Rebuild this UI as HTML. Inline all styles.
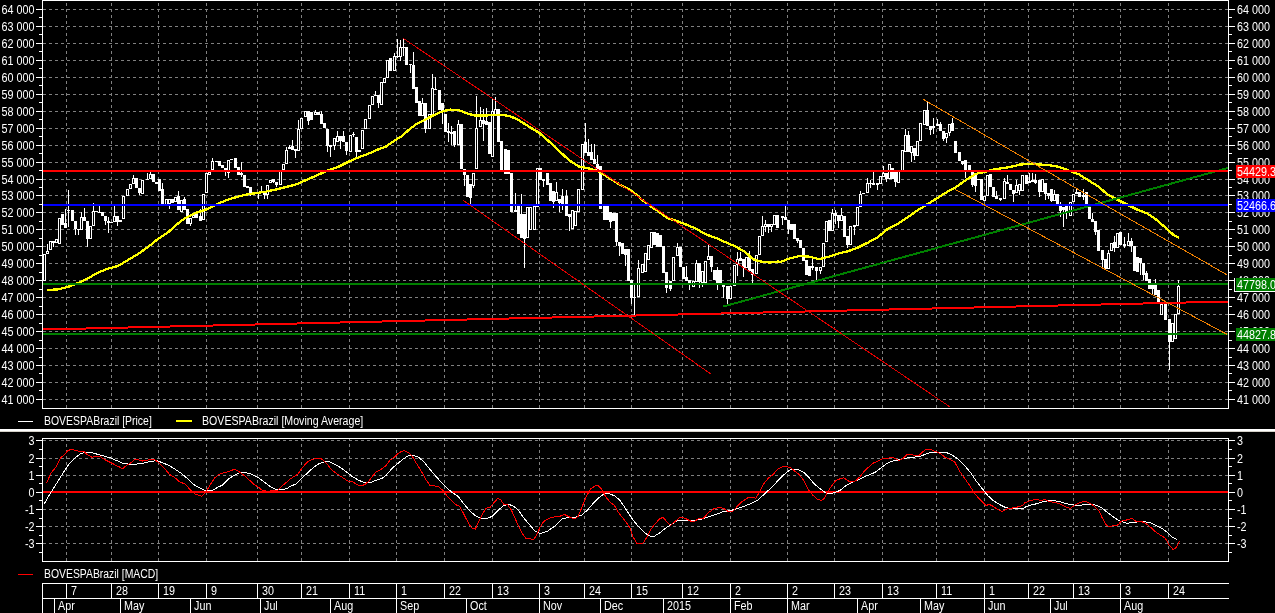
<!DOCTYPE html>
<html><head><meta charset="utf-8"><title>BOVESPA Brazil chart</title>
<style>html,body{margin:0;padding:0;background:#000;overflow:hidden}svg{display:block;will-change:transform}text{font-family:"Liberation Sans",sans-serif;font-size:12.5px;fill:#fff}</style></head><body>
<svg width="1275" height="613" viewBox="0 0 1275 613">
<rect x="0" y="0" width="1275" height="613" fill="#000"/>
<g shape-rendering="crispEdges">
<g stroke="#808080" stroke-width="1" stroke-dasharray="3 3" fill="none">
<line x1="43" y1="399.5" x2="1228" y2="399.5"/>
<line x1="43" y1="382.5" x2="1228" y2="382.5"/>
<line x1="43" y1="365.5" x2="1228" y2="365.5"/>
<line x1="43" y1="348.5" x2="1228" y2="348.5"/>
<line x1="43" y1="331.5" x2="1228" y2="331.5"/>
<line x1="43" y1="314.5" x2="1228" y2="314.5"/>
<line x1="43" y1="297.5" x2="1228" y2="297.5"/>
<line x1="43" y1="280.5" x2="1228" y2="280.5"/>
<line x1="43" y1="263.5" x2="1228" y2="263.5"/>
<line x1="43" y1="246.5" x2="1228" y2="246.5"/>
<line x1="43" y1="229.5" x2="1228" y2="229.5"/>
<line x1="43" y1="212.5" x2="1228" y2="212.5"/>
<line x1="43" y1="195.5" x2="1228" y2="195.5"/>
<line x1="43" y1="179.5" x2="1228" y2="179.5"/>
<line x1="43" y1="162.5" x2="1228" y2="162.5"/>
<line x1="43" y1="145.5" x2="1228" y2="145.5"/>
<line x1="43" y1="128.5" x2="1228" y2="128.5"/>
<line x1="43" y1="111.5" x2="1228" y2="111.5"/>
<line x1="43" y1="94.5" x2="1228" y2="94.5"/>
<line x1="43" y1="77.5" x2="1228" y2="77.5"/>
<line x1="43" y1="60.5" x2="1228" y2="60.5"/>
<line x1="43" y1="43.5" x2="1228" y2="43.5"/>
<line x1="43" y1="26.5" x2="1228" y2="26.5"/>
<line x1="43" y1="9.5" x2="1228" y2="9.5"/>
<line x1="66.5" y1="1" x2="66.5" y2="408" stroke-dashoffset="4"/>
<line x1="111.5" y1="1" x2="111.5" y2="408" stroke-dashoffset="4"/>
<line x1="158.5" y1="1" x2="158.5" y2="408" stroke-dashoffset="4"/>
<line x1="206.5" y1="1" x2="206.5" y2="408" stroke-dashoffset="4"/>
<line x1="257.5" y1="1" x2="257.5" y2="408" stroke-dashoffset="4"/>
<line x1="301.5" y1="1" x2="301.5" y2="408" stroke-dashoffset="4"/>
<line x1="349.5" y1="1" x2="349.5" y2="408" stroke-dashoffset="4"/>
<line x1="396.5" y1="1" x2="396.5" y2="408" stroke-dashoffset="4"/>
<line x1="444.5" y1="1" x2="444.5" y2="408" stroke-dashoffset="4"/>
<line x1="492.5" y1="1" x2="492.5" y2="408" stroke-dashoffset="4"/>
<line x1="539.5" y1="1" x2="539.5" y2="408" stroke-dashoffset="4"/>
<line x1="584.5" y1="1" x2="584.5" y2="408" stroke-dashoffset="4"/>
<line x1="631.5" y1="1" x2="631.5" y2="408" stroke-dashoffset="4"/>
<line x1="682.5" y1="1" x2="682.5" y2="408" stroke-dashoffset="4"/>
<line x1="730.5" y1="1" x2="730.5" y2="408" stroke-dashoffset="4"/>
<line x1="787.5" y1="1" x2="787.5" y2="408" stroke-dashoffset="4"/>
<line x1="834.5" y1="1" x2="834.5" y2="408" stroke-dashoffset="4"/>
<line x1="882.5" y1="1" x2="882.5" y2="408" stroke-dashoffset="4"/>
<line x1="936.5" y1="1" x2="936.5" y2="408" stroke-dashoffset="4"/>
<line x1="984.5" y1="1" x2="984.5" y2="408" stroke-dashoffset="4"/>
<line x1="1028.5" y1="1" x2="1028.5" y2="408" stroke-dashoffset="4"/>
<line x1="1073.5" y1="1" x2="1073.5" y2="408" stroke-dashoffset="4"/>
<line x1="1120.5" y1="1" x2="1120.5" y2="408" stroke-dashoffset="4"/>
<line x1="1168.5" y1="1" x2="1168.5" y2="408" stroke-dashoffset="4"/>
</g>
<g id="candles">
<rect x="43" y="254" width="3" height="27" fill="#fff"/>
<rect x="44" y="255" width="1" height="25" fill="#000"/>
<rect x="47" y="244" width="1" height="7" fill="#fff"/>
<rect x="46" y="251" width="3" height="3" fill="#fff"/>
<rect x="47" y="252" width="1" height="1" fill="#000"/>
<rect x="49" y="241" width="3" height="9" fill="#fff"/>
<rect x="50" y="242" width="1" height="7" fill="#000"/>
<rect x="53" y="243" width="1" height="4" fill="#fff"/>
<rect x="52" y="241" width="3" height="2" fill="#fff"/>
<rect x="55" y="239" width="3" height="4" fill="#fff"/>
<rect x="56" y="240" width="1" height="2" fill="#000"/>
<rect x="58" y="218" width="3" height="26" fill="#fff"/>
<rect x="59" y="219" width="1" height="24" fill="#000"/>
<rect x="61" y="214" width="3" height="11" fill="#fff"/>
<rect x="65" y="209" width="1" height="14" fill="#fff"/>
<rect x="64" y="223" width="3" height="5" fill="#fff"/>
<rect x="68" y="190" width="1" height="20" fill="#fff"/>
<rect x="68" y="211" width="1" height="16" fill="#fff"/>
<rect x="67" y="210" width="3" height="1" fill="#fff"/>
<rect x="71" y="210" width="3" height="11" fill="#fff"/>
<rect x="75" y="229" width="1" height="6" fill="#fff"/>
<rect x="74" y="221" width="3" height="8" fill="#fff"/>
<rect x="78" y="230" width="1" height="5" fill="#fff"/>
<rect x="77" y="229" width="3" height="1" fill="#fff"/>
<rect x="81" y="212" width="1" height="5" fill="#fff"/>
<rect x="80" y="217" width="3" height="13" fill="#fff"/>
<rect x="81" y="218" width="1" height="11" fill="#000"/>
<rect x="84" y="208" width="1" height="9" fill="#fff"/>
<rect x="83" y="217" width="3" height="4" fill="#fff"/>
<rect x="87" y="239" width="1" height="8" fill="#fff"/>
<rect x="86" y="221" width="3" height="18" fill="#fff"/>
<rect x="89" y="226" width="3" height="13" fill="#fff"/>
<rect x="90" y="227" width="1" height="11" fill="#000"/>
<rect x="93" y="203" width="1" height="8" fill="#fff"/>
<rect x="92" y="211" width="3" height="15" fill="#fff"/>
<rect x="93" y="212" width="1" height="13" fill="#000"/>
<rect x="95" y="211" width="3" height="1" fill="#fff"/>
<rect x="99" y="206" width="1" height="6" fill="#fff"/>
<rect x="98" y="212" width="3" height="1" fill="#fff"/>
<rect x="101" y="212" width="3" height="4" fill="#fff"/>
<rect x="105" y="221" width="1" height="4" fill="#fff"/>
<rect x="104" y="216" width="3" height="5" fill="#fff"/>
<rect x="108" y="217" width="1" height="4" fill="#fff"/>
<rect x="108" y="223" width="1" height="10" fill="#fff"/>
<rect x="107" y="221" width="3" height="2" fill="#fff"/>
<rect x="110" y="222" width="3" height="1" fill="#fff"/>
<rect x="114" y="206" width="1" height="10" fill="#fff"/>
<rect x="113" y="216" width="3" height="6" fill="#fff"/>
<rect x="114" y="217" width="1" height="4" fill="#000"/>
<rect x="117" y="222" width="1" height="4" fill="#fff"/>
<rect x="116" y="216" width="3" height="6" fill="#fff"/>
<rect x="119" y="220" width="3" height="2" fill="#fff"/>
<rect x="122" y="196" width="3" height="23" fill="#fff"/>
<rect x="123" y="197" width="1" height="21" fill="#000"/>
<rect x="126" y="189" width="3" height="7" fill="#fff"/>
<rect x="127" y="190" width="1" height="5" fill="#000"/>
<rect x="129" y="184" width="3" height="5" fill="#fff"/>
<rect x="130" y="185" width="1" height="3" fill="#000"/>
<rect x="133" y="175" width="1" height="3" fill="#fff"/>
<rect x="132" y="178" width="3" height="6" fill="#fff"/>
<rect x="133" y="179" width="1" height="4" fill="#000"/>
<rect x="135" y="178" width="3" height="10" fill="#fff"/>
<rect x="139" y="193" width="1" height="2" fill="#fff"/>
<rect x="138" y="188" width="3" height="5" fill="#fff"/>
<rect x="141" y="180" width="3" height="14" fill="#fff"/>
<rect x="142" y="181" width="1" height="12" fill="#000"/>
<rect x="147" y="173" width="1" height="6" fill="#fff"/>
<rect x="146" y="179" width="3" height="1" fill="#fff"/>
<rect x="150" y="172" width="1" height="2" fill="#fff"/>
<rect x="149" y="174" width="3" height="5" fill="#fff"/>
<rect x="150" y="175" width="1" height="3" fill="#000"/>
<rect x="152" y="174" width="3" height="8" fill="#fff"/>
<rect x="155" y="182" width="3" height="2" fill="#fff"/>
<rect x="158" y="179" width="3" height="12" fill="#fff"/>
<rect x="162" y="183" width="1" height="6" fill="#fff"/>
<rect x="161" y="189" width="3" height="17" fill="#fff"/>
<rect x="165" y="199" width="3" height="7" fill="#fff"/>
<rect x="166" y="200" width="1" height="5" fill="#000"/>
<rect x="169" y="204" width="1" height="5" fill="#fff"/>
<rect x="168" y="199" width="3" height="5" fill="#fff"/>
<rect x="169" y="200" width="1" height="3" fill="#000"/>
<rect x="171" y="199" width="3" height="4" fill="#fff"/>
<rect x="174" y="197" width="3" height="5" fill="#fff"/>
<rect x="175" y="198" width="1" height="3" fill="#000"/>
<rect x="178" y="191" width="1" height="5" fill="#fff"/>
<rect x="177" y="196" width="3" height="14" fill="#fff"/>
<rect x="180" y="200" width="3" height="12" fill="#fff"/>
<rect x="181" y="201" width="1" height="10" fill="#000"/>
<rect x="184" y="197" width="1" height="2" fill="#fff"/>
<rect x="183" y="199" width="3" height="11" fill="#fff"/>
<rect x="186" y="209" width="3" height="15" fill="#fff"/>
<rect x="190" y="224" width="1" height="2" fill="#fff"/>
<rect x="189" y="218" width="3" height="6" fill="#fff"/>
<rect x="190" y="219" width="1" height="4" fill="#000"/>
<rect x="192" y="215" width="3" height="3" fill="#fff"/>
<rect x="193" y="216" width="1" height="1" fill="#000"/>
<rect x="195" y="214" width="3" height="4" fill="#fff"/>
<rect x="200" y="209" width="1" height="7" fill="#fff"/>
<rect x="199" y="216" width="3" height="5" fill="#fff"/>
<rect x="202" y="194" width="3" height="26" fill="#fff"/>
<rect x="203" y="195" width="1" height="24" fill="#000"/>
<rect x="205" y="173" width="3" height="20" fill="#fff"/>
<rect x="206" y="174" width="1" height="18" fill="#000"/>
<rect x="209" y="171" width="1" height="1" fill="#fff"/>
<rect x="208" y="172" width="3" height="3" fill="#fff"/>
<rect x="209" y="173" width="1" height="1" fill="#000"/>
<rect x="212" y="158" width="1" height="3" fill="#fff"/>
<rect x="211" y="161" width="3" height="9" fill="#fff"/>
<rect x="212" y="162" width="1" height="7" fill="#000"/>
<rect x="215" y="161" width="3" height="1" fill="#fff"/>
<rect x="218" y="161" width="3" height="5" fill="#fff"/>
<rect x="221" y="165" width="3" height="3" fill="#fff"/>
<rect x="225" y="172" width="1" height="4" fill="#fff"/>
<rect x="224" y="168" width="3" height="4" fill="#fff"/>
<rect x="228" y="173" width="1" height="5" fill="#fff"/>
<rect x="227" y="160" width="3" height="13" fill="#fff"/>
<rect x="228" y="161" width="1" height="11" fill="#000"/>
<rect x="230" y="159" width="3" height="1" fill="#fff"/>
<rect x="234" y="158" width="3" height="10" fill="#fff"/>
<rect x="237" y="167" width="3" height="8" fill="#fff"/>
<rect x="241" y="162" width="1" height="11" fill="#fff"/>
<rect x="241" y="175" width="1" height="2" fill="#fff"/>
<rect x="240" y="173" width="3" height="2" fill="#fff"/>
<rect x="243" y="175" width="3" height="12" fill="#fff"/>
<rect x="246" y="186" width="3" height="2" fill="#fff"/>
<rect x="250" y="193" width="1" height="3" fill="#fff"/>
<rect x="249" y="187" width="3" height="6" fill="#fff"/>
<rect x="253" y="192" width="3" height="1" fill="#fff"/>
<rect x="258" y="193" width="1" height="6" fill="#fff"/>
<rect x="257" y="192" width="3" height="1" fill="#fff"/>
<rect x="261" y="186" width="1" height="5" fill="#fff"/>
<rect x="260" y="191" width="3" height="2" fill="#fff"/>
<rect x="264" y="195" width="1" height="4" fill="#fff"/>
<rect x="263" y="191" width="3" height="4" fill="#fff"/>
<rect x="267" y="195" width="1" height="4" fill="#fff"/>
<rect x="266" y="185" width="3" height="10" fill="#fff"/>
<rect x="267" y="186" width="1" height="8" fill="#000"/>
<rect x="269" y="180" width="3" height="3" fill="#fff"/>
<rect x="270" y="181" width="1" height="1" fill="#000"/>
<rect x="273" y="182" width="1" height="1" fill="#fff"/>
<rect x="272" y="179" width="3" height="3" fill="#fff"/>
<rect x="276" y="185" width="1" height="2" fill="#fff"/>
<rect x="275" y="182" width="3" height="3" fill="#fff"/>
<rect x="279" y="171" width="3" height="14" fill="#fff"/>
<rect x="280" y="172" width="1" height="12" fill="#000"/>
<rect x="282" y="164" width="3" height="6" fill="#fff"/>
<rect x="283" y="165" width="1" height="4" fill="#000"/>
<rect x="286" y="147" width="1" height="3" fill="#fff"/>
<rect x="285" y="150" width="3" height="14" fill="#fff"/>
<rect x="286" y="151" width="1" height="12" fill="#000"/>
<rect x="289" y="145" width="1" height="2" fill="#fff"/>
<rect x="288" y="147" width="3" height="2" fill="#fff"/>
<rect x="292" y="140" width="1" height="6" fill="#fff"/>
<rect x="291" y="146" width="3" height="4" fill="#fff"/>
<rect x="295" y="151" width="1" height="7" fill="#fff"/>
<rect x="294" y="149" width="3" height="2" fill="#fff"/>
<rect x="298" y="120" width="1" height="9" fill="#fff"/>
<rect x="297" y="129" width="3" height="22" fill="#fff"/>
<rect x="298" y="130" width="1" height="20" fill="#000"/>
<rect x="300" y="118" width="3" height="11" fill="#fff"/>
<rect x="301" y="119" width="1" height="9" fill="#000"/>
<rect x="304" y="111" width="3" height="6" fill="#fff"/>
<rect x="305" y="112" width="1" height="4" fill="#000"/>
<rect x="308" y="121" width="1" height="4" fill="#fff"/>
<rect x="307" y="111" width="3" height="10" fill="#fff"/>
<rect x="310" y="112" width="3" height="8" fill="#fff"/>
<rect x="315" y="110" width="1" height="2" fill="#fff"/>
<rect x="314" y="112" width="3" height="3" fill="#fff"/>
<rect x="315" y="113" width="1" height="1" fill="#000"/>
<rect x="317" y="112" width="3" height="3" fill="#fff"/>
<rect x="321" y="111" width="1" height="3" fill="#fff"/>
<rect x="320" y="114" width="3" height="10" fill="#fff"/>
<rect x="323" y="123" width="3" height="5" fill="#fff"/>
<rect x="327" y="146" width="1" height="6" fill="#fff"/>
<rect x="326" y="129" width="3" height="17" fill="#fff"/>
<rect x="330" y="147" width="1" height="10" fill="#fff"/>
<rect x="329" y="145" width="3" height="2" fill="#fff"/>
<rect x="334" y="146" width="1" height="4" fill="#fff"/>
<rect x="333" y="138" width="3" height="8" fill="#fff"/>
<rect x="334" y="139" width="1" height="6" fill="#000"/>
<rect x="337" y="131" width="1" height="5" fill="#fff"/>
<rect x="336" y="136" width="3" height="6" fill="#fff"/>
<rect x="337" y="137" width="1" height="4" fill="#000"/>
<rect x="340" y="141" width="1" height="8" fill="#fff"/>
<rect x="339" y="136" width="3" height="5" fill="#fff"/>
<rect x="343" y="131" width="1" height="5" fill="#fff"/>
<rect x="342" y="136" width="3" height="6" fill="#fff"/>
<rect x="346" y="151" width="1" height="4" fill="#fff"/>
<rect x="345" y="142" width="3" height="9" fill="#fff"/>
<rect x="349" y="135" width="3" height="17" fill="#fff"/>
<rect x="350" y="136" width="1" height="15" fill="#000"/>
<rect x="353" y="132" width="1" height="2" fill="#fff"/>
<rect x="353" y="135" width="1" height="2" fill="#fff"/>
<rect x="352" y="134" width="3" height="1" fill="#fff"/>
<rect x="356" y="152" width="1" height="5" fill="#fff"/>
<rect x="355" y="137" width="3" height="15" fill="#fff"/>
<rect x="358" y="150" width="3" height="2" fill="#fff"/>
<rect x="361" y="130" width="3" height="19" fill="#fff"/>
<rect x="362" y="131" width="1" height="17" fill="#000"/>
<rect x="364" y="119" width="3" height="10" fill="#fff"/>
<rect x="365" y="120" width="1" height="8" fill="#000"/>
<rect x="368" y="105" width="3" height="14" fill="#fff"/>
<rect x="369" y="106" width="1" height="12" fill="#000"/>
<rect x="371" y="96" width="3" height="9" fill="#fff"/>
<rect x="372" y="97" width="1" height="7" fill="#000"/>
<rect x="375" y="91" width="1" height="4" fill="#fff"/>
<rect x="374" y="95" width="3" height="1" fill="#fff"/>
<rect x="378" y="103" width="1" height="5" fill="#fff"/>
<rect x="377" y="95" width="3" height="8" fill="#fff"/>
<rect x="380" y="82" width="3" height="23" fill="#fff"/>
<rect x="381" y="83" width="1" height="21" fill="#000"/>
<rect x="383" y="78" width="3" height="5" fill="#fff"/>
<rect x="384" y="79" width="1" height="3" fill="#000"/>
<rect x="386" y="60" width="3" height="18" fill="#fff"/>
<rect x="387" y="61" width="1" height="16" fill="#000"/>
<rect x="389" y="58" width="3" height="13" fill="#fff"/>
<rect x="394" y="53" width="1" height="3" fill="#fff"/>
<rect x="393" y="56" width="3" height="15" fill="#fff"/>
<rect x="394" y="57" width="1" height="13" fill="#000"/>
<rect x="397" y="39" width="1" height="17" fill="#fff"/>
<rect x="397" y="57" width="1" height="1" fill="#fff"/>
<rect x="396" y="56" width="3" height="1" fill="#fff"/>
<rect x="400" y="40" width="1" height="7" fill="#fff"/>
<rect x="400" y="57" width="1" height="4" fill="#fff"/>
<rect x="399" y="47" width="3" height="10" fill="#fff"/>
<rect x="400" y="48" width="1" height="8" fill="#000"/>
<rect x="403" y="39" width="1" height="8" fill="#fff"/>
<rect x="403" y="48" width="1" height="8" fill="#fff"/>
<rect x="402" y="47" width="3" height="1" fill="#fff"/>
<rect x="405" y="47" width="3" height="18" fill="#fff"/>
<rect x="410" y="65" width="1" height="8" fill="#fff"/>
<rect x="409" y="64" width="3" height="1" fill="#fff"/>
<rect x="413" y="52" width="1" height="13" fill="#fff"/>
<rect x="412" y="65" width="3" height="24" fill="#fff"/>
<rect x="415" y="87" width="3" height="16" fill="#fff"/>
<rect x="418" y="101" width="3" height="15" fill="#fff"/>
<rect x="422" y="98" width="1" height="5" fill="#fff"/>
<rect x="421" y="103" width="3" height="13" fill="#fff"/>
<rect x="422" y="104" width="1" height="11" fill="#000"/>
<rect x="425" y="129" width="1" height="4" fill="#fff"/>
<rect x="424" y="103" width="3" height="26" fill="#fff"/>
<rect x="428" y="114" width="3" height="15" fill="#fff"/>
<rect x="429" y="115" width="1" height="13" fill="#000"/>
<rect x="432" y="74" width="1" height="14" fill="#fff"/>
<rect x="431" y="88" width="3" height="28" fill="#fff"/>
<rect x="432" y="89" width="1" height="26" fill="#000"/>
<rect x="435" y="77" width="1" height="12" fill="#fff"/>
<rect x="434" y="89" width="3" height="1" fill="#fff"/>
<rect x="438" y="90" width="3" height="20" fill="#fff"/>
<rect x="442" y="111" width="1" height="13" fill="#fff"/>
<rect x="441" y="103" width="3" height="8" fill="#fff"/>
<rect x="444" y="114" width="3" height="18" fill="#fff"/>
<rect x="448" y="123" width="1" height="8" fill="#fff"/>
<rect x="448" y="133" width="1" height="9" fill="#fff"/>
<rect x="447" y="131" width="3" height="2" fill="#fff"/>
<rect x="451" y="126" width="1" height="6" fill="#fff"/>
<rect x="451" y="134" width="1" height="11" fill="#fff"/>
<rect x="450" y="132" width="3" height="2" fill="#fff"/>
<rect x="454" y="145" width="1" height="2" fill="#fff"/>
<rect x="453" y="131" width="3" height="14" fill="#fff"/>
<rect x="458" y="120" width="1" height="4" fill="#fff"/>
<rect x="457" y="124" width="3" height="21" fill="#fff"/>
<rect x="458" y="125" width="1" height="19" fill="#000"/>
<rect x="460" y="124" width="3" height="45" fill="#fff"/>
<rect x="464" y="175" width="1" height="11" fill="#fff"/>
<rect x="463" y="169" width="3" height="6" fill="#fff"/>
<rect x="466" y="175" width="3" height="22" fill="#fff"/>
<rect x="470" y="198" width="1" height="6" fill="#fff"/>
<rect x="469" y="184" width="3" height="14" fill="#fff"/>
<rect x="473" y="186" width="1" height="2" fill="#fff"/>
<rect x="472" y="173" width="3" height="13" fill="#fff"/>
<rect x="473" y="174" width="1" height="11" fill="#000"/>
<rect x="476" y="96" width="1" height="32" fill="#fff"/>
<rect x="475" y="128" width="3" height="41" fill="#fff"/>
<rect x="476" y="129" width="1" height="39" fill="#000"/>
<rect x="480" y="107" width="1" height="13" fill="#fff"/>
<rect x="479" y="120" width="3" height="7" fill="#fff"/>
<rect x="480" y="121" width="1" height="5" fill="#000"/>
<rect x="483" y="109" width="1" height="11" fill="#fff"/>
<rect x="483" y="124" width="1" height="17" fill="#fff"/>
<rect x="482" y="120" width="3" height="4" fill="#fff"/>
<rect x="486" y="108" width="1" height="13" fill="#fff"/>
<rect x="485" y="121" width="3" height="4" fill="#fff"/>
<rect x="488" y="122" width="3" height="32" fill="#fff"/>
<rect x="492" y="98" width="1" height="13" fill="#fff"/>
<rect x="491" y="111" width="3" height="46" fill="#fff"/>
<rect x="492" y="112" width="1" height="44" fill="#000"/>
<rect x="495" y="97" width="1" height="12" fill="#fff"/>
<rect x="494" y="109" width="3" height="6" fill="#fff"/>
<rect x="495" y="110" width="1" height="4" fill="#000"/>
<rect x="497" y="109" width="3" height="33" fill="#fff"/>
<rect x="500" y="141" width="3" height="31" fill="#fff"/>
<rect x="504" y="149" width="3" height="25" fill="#fff"/>
<rect x="507" y="150" width="3" height="24" fill="#fff"/>
<rect x="510" y="173" width="3" height="39" fill="#fff"/>
<rect x="515" y="193" width="1" height="17" fill="#fff"/>
<rect x="514" y="210" width="3" height="2" fill="#fff"/>
<rect x="517" y="206" width="3" height="28" fill="#fff"/>
<rect x="521" y="194" width="1" height="20" fill="#fff"/>
<rect x="520" y="214" width="3" height="24" fill="#fff"/>
<rect x="524" y="239" width="1" height="29" fill="#fff"/>
<rect x="523" y="214" width="3" height="25" fill="#fff"/>
<rect x="526" y="207" width="3" height="31" fill="#fff"/>
<rect x="527" y="208" width="1" height="29" fill="#000"/>
<rect x="529" y="207" width="3" height="23" fill="#fff"/>
<rect x="530" y="208" width="1" height="21" fill="#000"/>
<rect x="533" y="206" width="3" height="24" fill="#fff"/>
<rect x="534" y="207" width="1" height="22" fill="#000"/>
<rect x="536" y="168" width="3" height="39" fill="#fff"/>
<rect x="537" y="169" width="1" height="37" fill="#000"/>
<rect x="539" y="168" width="3" height="12" fill="#fff"/>
<rect x="543" y="181" width="1" height="6" fill="#fff"/>
<rect x="542" y="179" width="3" height="2" fill="#fff"/>
<rect x="546" y="173" width="3" height="12" fill="#fff"/>
<rect x="549" y="183" width="3" height="18" fill="#fff"/>
<rect x="553" y="202" width="1" height="6" fill="#fff"/>
<rect x="552" y="191" width="3" height="11" fill="#fff"/>
<rect x="556" y="182" width="1" height="10" fill="#fff"/>
<rect x="555" y="192" width="3" height="9" fill="#fff"/>
<rect x="556" y="193" width="1" height="7" fill="#000"/>
<rect x="559" y="203" width="1" height="9" fill="#fff"/>
<rect x="558" y="199" width="3" height="4" fill="#fff"/>
<rect x="562" y="189" width="1" height="7" fill="#fff"/>
<rect x="562" y="206" width="1" height="4" fill="#fff"/>
<rect x="561" y="196" width="3" height="10" fill="#fff"/>
<rect x="566" y="190" width="1" height="6" fill="#fff"/>
<rect x="565" y="196" width="3" height="20" fill="#fff"/>
<rect x="569" y="217" width="1" height="14" fill="#fff"/>
<rect x="568" y="214" width="3" height="3" fill="#fff"/>
<rect x="571" y="210" width="3" height="19" fill="#fff"/>
<rect x="572" y="211" width="1" height="17" fill="#000"/>
<rect x="574" y="211" width="3" height="15" fill="#fff"/>
<rect x="575" y="212" width="1" height="13" fill="#000"/>
<rect x="577" y="189" width="3" height="23" fill="#fff"/>
<rect x="578" y="190" width="1" height="21" fill="#000"/>
<rect x="581" y="144" width="3" height="46" fill="#fff"/>
<rect x="582" y="145" width="1" height="44" fill="#000"/>
<rect x="585" y="123" width="1" height="19" fill="#fff"/>
<rect x="584" y="142" width="3" height="11" fill="#fff"/>
<rect x="588" y="139" width="1" height="13" fill="#fff"/>
<rect x="587" y="152" width="3" height="4" fill="#fff"/>
<rect x="591" y="144" width="1" height="8" fill="#fff"/>
<rect x="590" y="152" width="3" height="8" fill="#fff"/>
<rect x="594" y="144" width="1" height="15" fill="#fff"/>
<rect x="593" y="159" width="3" height="5" fill="#fff"/>
<rect x="597" y="155" width="1" height="9" fill="#fff"/>
<rect x="596" y="164" width="3" height="7" fill="#fff"/>
<rect x="599" y="166" width="3" height="43" fill="#fff"/>
<rect x="603" y="206" width="3" height="14" fill="#fff"/>
<rect x="606" y="206" width="3" height="14" fill="#fff"/>
<rect x="610" y="222" width="1" height="6" fill="#fff"/>
<rect x="609" y="212" width="3" height="10" fill="#fff"/>
<rect x="612" y="213" width="3" height="8" fill="#fff"/>
<rect x="616" y="242" width="1" height="4" fill="#fff"/>
<rect x="615" y="213" width="3" height="29" fill="#fff"/>
<rect x="619" y="246" width="1" height="10" fill="#fff"/>
<rect x="618" y="242" width="3" height="4" fill="#fff"/>
<rect x="621" y="243" width="3" height="11" fill="#fff"/>
<rect x="625" y="255" width="1" height="11" fill="#fff"/>
<rect x="624" y="249" width="3" height="6" fill="#fff"/>
<rect x="627" y="249" width="3" height="32" fill="#fff"/>
<rect x="631" y="298" width="1" height="6" fill="#fff"/>
<rect x="630" y="280" width="3" height="18" fill="#fff"/>
<rect x="634" y="285" width="1" height="12" fill="#fff"/>
<rect x="634" y="298" width="1" height="17" fill="#fff"/>
<rect x="633" y="297" width="3" height="1" fill="#fff"/>
<rect x="638" y="260" width="1" height="8" fill="#fff"/>
<rect x="637" y="268" width="3" height="29" fill="#fff"/>
<rect x="638" y="269" width="1" height="27" fill="#000"/>
<rect x="641" y="264" width="3" height="9" fill="#fff"/>
<rect x="642" y="265" width="1" height="7" fill="#000"/>
<rect x="644" y="253" width="3" height="19" fill="#fff"/>
<rect x="645" y="254" width="1" height="17" fill="#000"/>
<rect x="647" y="245" width="3" height="15" fill="#fff"/>
<rect x="648" y="246" width="1" height="13" fill="#000"/>
<rect x="650" y="232" width="3" height="16" fill="#fff"/>
<rect x="651" y="233" width="1" height="14" fill="#000"/>
<rect x="653" y="232" width="3" height="13" fill="#fff"/>
<rect x="656" y="233" width="3" height="14" fill="#fff"/>
<rect x="659" y="235" width="3" height="12" fill="#fff"/>
<rect x="662" y="246" width="3" height="27" fill="#fff"/>
<rect x="666" y="288" width="1" height="5" fill="#fff"/>
<rect x="665" y="272" width="3" height="16" fill="#fff"/>
<rect x="670" y="289" width="1" height="2" fill="#fff"/>
<rect x="669" y="281" width="3" height="8" fill="#fff"/>
<rect x="672" y="257" width="3" height="24" fill="#fff"/>
<rect x="673" y="258" width="1" height="22" fill="#000"/>
<rect x="677" y="243" width="1" height="4" fill="#fff"/>
<rect x="676" y="247" width="3" height="9" fill="#fff"/>
<rect x="677" y="248" width="1" height="7" fill="#000"/>
<rect x="679" y="247" width="3" height="20" fill="#fff"/>
<rect x="682" y="267" width="3" height="12" fill="#fff"/>
<rect x="686" y="266" width="1" height="11" fill="#fff"/>
<rect x="685" y="277" width="3" height="4" fill="#fff"/>
<rect x="689" y="285" width="1" height="5" fill="#fff"/>
<rect x="688" y="280" width="3" height="5" fill="#fff"/>
<rect x="692" y="281" width="3" height="6" fill="#fff"/>
<rect x="693" y="282" width="1" height="4" fill="#000"/>
<rect x="696" y="260" width="1" height="3" fill="#fff"/>
<rect x="695" y="263" width="3" height="19" fill="#fff"/>
<rect x="696" y="264" width="1" height="17" fill="#000"/>
<rect x="699" y="282" width="1" height="6" fill="#fff"/>
<rect x="698" y="263" width="3" height="19" fill="#fff"/>
<rect x="702" y="283" width="1" height="4" fill="#fff"/>
<rect x="701" y="271" width="3" height="12" fill="#fff"/>
<rect x="702" y="272" width="1" height="10" fill="#000"/>
<rect x="704" y="261" width="3" height="22" fill="#fff"/>
<rect x="705" y="262" width="1" height="20" fill="#000"/>
<rect x="708" y="245" width="1" height="11" fill="#fff"/>
<rect x="707" y="256" width="3" height="4" fill="#fff"/>
<rect x="708" y="257" width="1" height="2" fill="#000"/>
<rect x="711" y="267" width="1" height="5" fill="#fff"/>
<rect x="710" y="256" width="3" height="11" fill="#fff"/>
<rect x="713" y="270" width="3" height="10" fill="#fff"/>
<rect x="717" y="267" width="1" height="3" fill="#fff"/>
<rect x="717" y="284" width="1" height="6" fill="#fff"/>
<rect x="716" y="270" width="3" height="14" fill="#fff"/>
<rect x="719" y="270" width="3" height="14" fill="#fff"/>
<rect x="723" y="287" width="1" height="11" fill="#fff"/>
<rect x="722" y="285" width="3" height="2" fill="#fff"/>
<rect x="727" y="299" width="1" height="7" fill="#fff"/>
<rect x="726" y="286" width="3" height="13" fill="#fff"/>
<rect x="729" y="286" width="3" height="13" fill="#fff"/>
<rect x="730" y="287" width="1" height="11" fill="#000"/>
<rect x="733" y="265" width="3" height="21" fill="#fff"/>
<rect x="734" y="266" width="1" height="19" fill="#000"/>
<rect x="737" y="252" width="1" height="7" fill="#fff"/>
<rect x="737" y="265" width="1" height="11" fill="#fff"/>
<rect x="736" y="259" width="3" height="6" fill="#fff"/>
<rect x="737" y="260" width="1" height="4" fill="#000"/>
<rect x="740" y="252" width="1" height="6" fill="#fff"/>
<rect x="739" y="258" width="3" height="3" fill="#fff"/>
<rect x="743" y="268" width="1" height="9" fill="#fff"/>
<rect x="742" y="259" width="3" height="9" fill="#fff"/>
<rect x="745" y="257" width="3" height="11" fill="#fff"/>
<rect x="746" y="258" width="1" height="9" fill="#000"/>
<rect x="749" y="251" width="1" height="6" fill="#fff"/>
<rect x="748" y="257" width="3" height="14" fill="#fff"/>
<rect x="752" y="275" width="1" height="8" fill="#fff"/>
<rect x="751" y="269" width="3" height="6" fill="#fff"/>
<rect x="755" y="255" width="3" height="19" fill="#fff"/>
<rect x="756" y="256" width="1" height="17" fill="#000"/>
<rect x="758" y="236" width="3" height="19" fill="#fff"/>
<rect x="759" y="237" width="1" height="17" fill="#000"/>
<rect x="762" y="216" width="1" height="10" fill="#fff"/>
<rect x="761" y="226" width="3" height="10" fill="#fff"/>
<rect x="762" y="227" width="1" height="8" fill="#000"/>
<rect x="765" y="220" width="1" height="4" fill="#fff"/>
<rect x="765" y="227" width="1" height="5" fill="#fff"/>
<rect x="764" y="224" width="3" height="3" fill="#fff"/>
<rect x="765" y="225" width="1" height="1" fill="#000"/>
<rect x="768" y="227" width="1" height="6" fill="#fff"/>
<rect x="767" y="224" width="3" height="3" fill="#fff"/>
<rect x="771" y="227" width="1" height="5" fill="#fff"/>
<rect x="770" y="224" width="3" height="3" fill="#fff"/>
<rect x="771" y="225" width="1" height="1" fill="#000"/>
<rect x="773" y="215" width="3" height="10" fill="#fff"/>
<rect x="774" y="216" width="1" height="8" fill="#000"/>
<rect x="776" y="215" width="3" height="13" fill="#fff"/>
<rect x="782" y="218" width="1" height="7" fill="#fff"/>
<rect x="781" y="216" width="3" height="2" fill="#fff"/>
<rect x="785" y="206" width="1" height="11" fill="#fff"/>
<rect x="784" y="217" width="3" height="3" fill="#fff"/>
<rect x="788" y="229" width="1" height="5" fill="#fff"/>
<rect x="787" y="220" width="3" height="9" fill="#fff"/>
<rect x="790" y="224" width="3" height="6" fill="#fff"/>
<rect x="793" y="224" width="3" height="15" fill="#fff"/>
<rect x="797" y="241" width="1" height="2" fill="#fff"/>
<rect x="796" y="238" width="3" height="3" fill="#fff"/>
<rect x="799" y="240" width="3" height="8" fill="#fff"/>
<rect x="802" y="248" width="3" height="13" fill="#fff"/>
<rect x="805" y="260" width="3" height="15" fill="#fff"/>
<rect x="808" y="266" width="3" height="10" fill="#fff"/>
<rect x="812" y="257" width="1" height="9" fill="#fff"/>
<rect x="812" y="268" width="1" height="2" fill="#fff"/>
<rect x="811" y="266" width="3" height="2" fill="#fff"/>
<rect x="816" y="271" width="1" height="11" fill="#fff"/>
<rect x="815" y="267" width="3" height="4" fill="#fff"/>
<rect x="820" y="271" width="1" height="3" fill="#fff"/>
<rect x="819" y="267" width="3" height="4" fill="#fff"/>
<rect x="820" y="268" width="1" height="2" fill="#000"/>
<rect x="822" y="243" width="3" height="24" fill="#fff"/>
<rect x="823" y="244" width="1" height="22" fill="#000"/>
<rect x="825" y="221" width="3" height="21" fill="#fff"/>
<rect x="826" y="222" width="1" height="19" fill="#000"/>
<rect x="828" y="220" width="3" height="11" fill="#fff"/>
<rect x="832" y="209" width="1" height="4" fill="#fff"/>
<rect x="831" y="213" width="3" height="18" fill="#fff"/>
<rect x="832" y="214" width="1" height="16" fill="#000"/>
<rect x="835" y="210" width="1" height="3" fill="#fff"/>
<rect x="835" y="216" width="1" height="8" fill="#fff"/>
<rect x="834" y="213" width="3" height="3" fill="#fff"/>
<rect x="838" y="221" width="1" height="7" fill="#fff"/>
<rect x="837" y="215" width="3" height="6" fill="#fff"/>
<rect x="841" y="208" width="1" height="7" fill="#fff"/>
<rect x="840" y="215" width="3" height="6" fill="#fff"/>
<rect x="841" y="216" width="1" height="4" fill="#000"/>
<rect x="843" y="216" width="3" height="21" fill="#fff"/>
<rect x="847" y="245" width="1" height="3" fill="#fff"/>
<rect x="846" y="236" width="3" height="9" fill="#fff"/>
<rect x="849" y="226" width="3" height="19" fill="#fff"/>
<rect x="850" y="227" width="1" height="17" fill="#000"/>
<rect x="854" y="227" width="1" height="8" fill="#fff"/>
<rect x="853" y="225" width="3" height="2" fill="#fff"/>
<rect x="856" y="207" width="3" height="19" fill="#fff"/>
<rect x="857" y="208" width="1" height="17" fill="#000"/>
<rect x="860" y="191" width="1" height="3" fill="#fff"/>
<rect x="859" y="194" width="3" height="13" fill="#fff"/>
<rect x="860" y="195" width="1" height="11" fill="#000"/>
<rect x="862" y="193" width="3" height="1" fill="#fff"/>
<rect x="867" y="178" width="1" height="5" fill="#fff"/>
<rect x="866" y="183" width="3" height="10" fill="#fff"/>
<rect x="867" y="184" width="1" height="8" fill="#000"/>
<rect x="870" y="180" width="1" height="3" fill="#fff"/>
<rect x="870" y="184" width="1" height="4" fill="#fff"/>
<rect x="869" y="183" width="3" height="1" fill="#fff"/>
<rect x="873" y="172" width="1" height="11" fill="#fff"/>
<rect x="872" y="183" width="3" height="2" fill="#fff"/>
<rect x="877" y="185" width="1" height="5" fill="#fff"/>
<rect x="876" y="183" width="3" height="2" fill="#fff"/>
<rect x="879" y="176" width="3" height="8" fill="#fff"/>
<rect x="880" y="177" width="1" height="6" fill="#000"/>
<rect x="883" y="166" width="1" height="7" fill="#fff"/>
<rect x="882" y="173" width="3" height="4" fill="#fff"/>
<rect x="883" y="174" width="1" height="2" fill="#000"/>
<rect x="886" y="179" width="1" height="3" fill="#fff"/>
<rect x="885" y="173" width="3" height="6" fill="#fff"/>
<rect x="888" y="164" width="3" height="15" fill="#fff"/>
<rect x="889" y="165" width="1" height="13" fill="#000"/>
<rect x="891" y="168" width="3" height="11" fill="#fff"/>
<rect x="895" y="182" width="1" height="5" fill="#fff"/>
<rect x="894" y="171" width="3" height="11" fill="#fff"/>
<rect x="897" y="170" width="3" height="13" fill="#fff"/>
<rect x="898" y="171" width="1" height="11" fill="#000"/>
<rect x="901" y="150" width="3" height="21" fill="#fff"/>
<rect x="902" y="151" width="1" height="19" fill="#000"/>
<rect x="905" y="129" width="1" height="6" fill="#fff"/>
<rect x="904" y="135" width="3" height="17" fill="#fff"/>
<rect x="905" y="136" width="1" height="15" fill="#000"/>
<rect x="908" y="131" width="1" height="4" fill="#fff"/>
<rect x="907" y="135" width="3" height="17" fill="#fff"/>
<rect x="911" y="153" width="1" height="9" fill="#fff"/>
<rect x="910" y="146" width="3" height="7" fill="#fff"/>
<rect x="911" y="147" width="1" height="5" fill="#000"/>
<rect x="914" y="156" width="1" height="4" fill="#fff"/>
<rect x="913" y="148" width="3" height="8" fill="#fff"/>
<rect x="916" y="141" width="3" height="15" fill="#fff"/>
<rect x="917" y="142" width="1" height="13" fill="#000"/>
<rect x="919" y="123" width="3" height="18" fill="#fff"/>
<rect x="920" y="124" width="1" height="16" fill="#000"/>
<rect x="923" y="110" width="3" height="15" fill="#fff"/>
<rect x="924" y="111" width="1" height="13" fill="#000"/>
<rect x="927" y="102" width="1" height="8" fill="#fff"/>
<rect x="926" y="110" width="3" height="16" fill="#fff"/>
<rect x="930" y="130" width="1" height="5" fill="#fff"/>
<rect x="929" y="126" width="3" height="4" fill="#fff"/>
<rect x="933" y="118" width="1" height="8" fill="#fff"/>
<rect x="933" y="128" width="1" height="6" fill="#fff"/>
<rect x="932" y="126" width="3" height="2" fill="#fff"/>
<rect x="937" y="119" width="1" height="5" fill="#fff"/>
<rect x="936" y="124" width="3" height="2" fill="#fff"/>
<rect x="940" y="122" width="1" height="2" fill="#fff"/>
<rect x="939" y="124" width="3" height="7" fill="#fff"/>
<rect x="943" y="139" width="1" height="2" fill="#fff"/>
<rect x="942" y="131" width="3" height="8" fill="#fff"/>
<rect x="946" y="138" width="1" height="5" fill="#fff"/>
<rect x="945" y="133" width="3" height="5" fill="#fff"/>
<rect x="946" y="134" width="1" height="3" fill="#000"/>
<rect x="949" y="133" width="1" height="3" fill="#fff"/>
<rect x="948" y="124" width="3" height="9" fill="#fff"/>
<rect x="949" y="125" width="1" height="7" fill="#000"/>
<rect x="952" y="118" width="1" height="5" fill="#fff"/>
<rect x="951" y="123" width="3" height="8" fill="#fff"/>
<rect x="954" y="141" width="3" height="12" fill="#fff"/>
<rect x="958" y="152" width="3" height="9" fill="#fff"/>
<rect x="962" y="164" width="1" height="1" fill="#fff"/>
<rect x="961" y="161" width="3" height="3" fill="#fff"/>
<rect x="965" y="170" width="1" height="8" fill="#fff"/>
<rect x="964" y="160" width="3" height="10" fill="#fff"/>
<rect x="968" y="165" width="3" height="7" fill="#fff"/>
<rect x="972" y="185" width="1" height="2" fill="#fff"/>
<rect x="971" y="171" width="3" height="14" fill="#fff"/>
<rect x="975" y="186" width="1" height="6" fill="#fff"/>
<rect x="974" y="174" width="3" height="12" fill="#fff"/>
<rect x="977" y="179" width="3" height="1" fill="#fff"/>
<rect x="980" y="179" width="3" height="21" fill="#fff"/>
<rect x="983" y="196" width="3" height="5" fill="#fff"/>
<rect x="984" y="197" width="1" height="3" fill="#000"/>
<rect x="986" y="175" width="3" height="21" fill="#fff"/>
<rect x="987" y="176" width="1" height="19" fill="#000"/>
<rect x="989" y="174" width="3" height="13" fill="#fff"/>
<rect x="992" y="187" width="3" height="10" fill="#fff"/>
<rect x="996" y="191" width="1" height="5" fill="#fff"/>
<rect x="995" y="196" width="3" height="3" fill="#fff"/>
<rect x="1000" y="200" width="1" height="1" fill="#fff"/>
<rect x="999" y="198" width="3" height="2" fill="#fff"/>
<rect x="1004" y="178" width="1" height="3" fill="#fff"/>
<rect x="1003" y="181" width="3" height="18" fill="#fff"/>
<rect x="1004" y="182" width="1" height="16" fill="#000"/>
<rect x="1007" y="175" width="1" height="7" fill="#fff"/>
<rect x="1006" y="182" width="3" height="2" fill="#fff"/>
<rect x="1009" y="184" width="3" height="6" fill="#fff"/>
<rect x="1013" y="194" width="1" height="8" fill="#fff"/>
<rect x="1012" y="190" width="3" height="4" fill="#fff"/>
<rect x="1016" y="180" width="1" height="5" fill="#fff"/>
<rect x="1015" y="185" width="3" height="8" fill="#fff"/>
<rect x="1016" y="186" width="1" height="6" fill="#000"/>
<rect x="1019" y="191" width="1" height="4" fill="#fff"/>
<rect x="1018" y="184" width="3" height="7" fill="#fff"/>
<rect x="1019" y="185" width="1" height="5" fill="#000"/>
<rect x="1021" y="175" width="3" height="16" fill="#fff"/>
<rect x="1022" y="176" width="1" height="14" fill="#000"/>
<rect x="1025" y="175" width="3" height="9" fill="#fff"/>
<rect x="1029" y="173" width="1" height="8" fill="#fff"/>
<rect x="1028" y="181" width="3" height="2" fill="#fff"/>
<rect x="1032" y="173" width="1" height="7" fill="#fff"/>
<rect x="1031" y="180" width="3" height="2" fill="#fff"/>
<rect x="1035" y="174" width="1" height="6" fill="#fff"/>
<rect x="1035" y="183" width="1" height="1" fill="#fff"/>
<rect x="1034" y="180" width="3" height="3" fill="#fff"/>
<rect x="1039" y="192" width="1" height="5" fill="#fff"/>
<rect x="1038" y="180" width="3" height="12" fill="#fff"/>
<rect x="1041" y="179" width="3" height="13" fill="#fff"/>
<rect x="1042" y="180" width="1" height="11" fill="#000"/>
<rect x="1045" y="194" width="1" height="6" fill="#fff"/>
<rect x="1044" y="183" width="3" height="11" fill="#fff"/>
<rect x="1048" y="196" width="1" height="3" fill="#fff"/>
<rect x="1047" y="193" width="3" height="3" fill="#fff"/>
<rect x="1051" y="201" width="1" height="1" fill="#fff"/>
<rect x="1050" y="189" width="3" height="12" fill="#fff"/>
<rect x="1054" y="190" width="1" height="4" fill="#fff"/>
<rect x="1053" y="194" width="3" height="7" fill="#fff"/>
<rect x="1054" y="195" width="1" height="5" fill="#000"/>
<rect x="1056" y="194" width="3" height="12" fill="#fff"/>
<rect x="1060" y="202" width="1" height="4" fill="#fff"/>
<rect x="1060" y="211" width="1" height="6" fill="#fff"/>
<rect x="1059" y="206" width="3" height="5" fill="#fff"/>
<rect x="1063" y="210" width="1" height="17" fill="#fff"/>
<rect x="1062" y="207" width="3" height="3" fill="#fff"/>
<rect x="1066" y="212" width="1" height="7" fill="#fff"/>
<rect x="1065" y="206" width="3" height="6" fill="#fff"/>
<rect x="1069" y="202" width="3" height="14" fill="#fff"/>
<rect x="1070" y="203" width="1" height="12" fill="#000"/>
<rect x="1072" y="194" width="3" height="8" fill="#fff"/>
<rect x="1073" y="195" width="1" height="6" fill="#000"/>
<rect x="1076" y="189" width="1" height="3" fill="#fff"/>
<rect x="1075" y="192" width="3" height="2" fill="#fff"/>
<rect x="1078" y="192" width="3" height="5" fill="#fff"/>
<rect x="1083" y="189" width="1" height="6" fill="#fff"/>
<rect x="1083" y="197" width="1" height="3" fill="#fff"/>
<rect x="1082" y="195" width="3" height="2" fill="#fff"/>
<rect x="1085" y="192" width="3" height="16" fill="#fff"/>
<rect x="1088" y="207" width="3" height="12" fill="#fff"/>
<rect x="1092" y="213" width="1" height="6" fill="#fff"/>
<rect x="1091" y="219" width="3" height="3" fill="#fff"/>
<rect x="1095" y="232" width="1" height="3" fill="#fff"/>
<rect x="1094" y="221" width="3" height="11" fill="#fff"/>
<rect x="1097" y="230" width="3" height="21" fill="#fff"/>
<rect x="1102" y="260" width="1" height="9" fill="#fff"/>
<rect x="1101" y="250" width="3" height="10" fill="#fff"/>
<rect x="1104" y="259" width="3" height="10" fill="#fff"/>
<rect x="1108" y="250" width="1" height="3" fill="#fff"/>
<rect x="1107" y="253" width="3" height="16" fill="#fff"/>
<rect x="1108" y="254" width="1" height="14" fill="#000"/>
<rect x="1110" y="243" width="3" height="8" fill="#fff"/>
<rect x="1111" y="244" width="1" height="6" fill="#000"/>
<rect x="1114" y="236" width="1" height="6" fill="#fff"/>
<rect x="1114" y="248" width="1" height="4" fill="#fff"/>
<rect x="1113" y="242" width="3" height="6" fill="#fff"/>
<rect x="1116" y="233" width="3" height="15" fill="#fff"/>
<rect x="1117" y="234" width="1" height="13" fill="#000"/>
<rect x="1119" y="232" width="3" height="13" fill="#fff"/>
<rect x="1124" y="237" width="1" height="7" fill="#fff"/>
<rect x="1124" y="246" width="1" height="2" fill="#fff"/>
<rect x="1123" y="244" width="3" height="2" fill="#fff"/>
<rect x="1128" y="233" width="1" height="8" fill="#fff"/>
<rect x="1127" y="241" width="3" height="5" fill="#fff"/>
<rect x="1128" y="242" width="1" height="3" fill="#000"/>
<rect x="1131" y="238" width="1" height="3" fill="#fff"/>
<rect x="1131" y="246" width="1" height="6" fill="#fff"/>
<rect x="1130" y="241" width="3" height="5" fill="#fff"/>
<rect x="1133" y="246" width="3" height="25" fill="#fff"/>
<rect x="1136" y="257" width="3" height="15" fill="#fff"/>
<rect x="1140" y="263" width="1" height="12" fill="#fff"/>
<rect x="1139" y="258" width="3" height="5" fill="#fff"/>
<rect x="1143" y="275" width="1" height="5" fill="#fff"/>
<rect x="1142" y="263" width="3" height="12" fill="#fff"/>
<rect x="1146" y="271" width="1" height="2" fill="#fff"/>
<rect x="1145" y="273" width="3" height="8" fill="#fff"/>
<rect x="1148" y="279" width="3" height="10" fill="#fff"/>
<rect x="1152" y="289" width="1" height="5" fill="#fff"/>
<rect x="1151" y="283" width="3" height="6" fill="#fff"/>
<rect x="1155" y="279" width="1" height="5" fill="#fff"/>
<rect x="1154" y="284" width="3" height="11" fill="#fff"/>
<rect x="1157" y="290" width="3" height="14" fill="#fff"/>
<rect x="1160" y="304" width="3" height="11" fill="#fff"/>
<rect x="1161" y="305" width="1" height="9" fill="#000"/>
<rect x="1164" y="302" width="3" height="18" fill="#fff"/>
<rect x="1169" y="342" width="1" height="28" fill="#fff"/>
<rect x="1168" y="319" width="3" height="23" fill="#fff"/>
<rect x="1171" y="323" width="3" height="19" fill="#fff"/>
<rect x="1172" y="324" width="1" height="17" fill="#000"/>
<rect x="1174" y="314" width="3" height="25" fill="#fff"/>
<rect x="1175" y="315" width="1" height="23" fill="#000"/>
<rect x="1178" y="280" width="1" height="6" fill="#fff"/>
<rect x="1177" y="286" width="3" height="28" fill="#fff"/>
<rect x="1178" y="287" width="1" height="26" fill="#000"/>
</g>
</g>
<g shape-rendering="crispEdges" fill="#ff0000">
<rect x="43" y="328" width="43" height="2"/>
<rect x="86" y="327" width="42" height="2"/>
<rect x="128" y="326" width="42" height="2"/>
<rect x="170" y="325" width="43" height="2"/>
<rect x="213" y="324" width="42" height="2"/>
<rect x="255" y="323" width="42" height="2"/>
<rect x="297" y="322" width="43" height="2"/>
<rect x="340" y="321" width="42" height="2"/>
<rect x="382" y="320" width="43" height="2"/>
<rect x="425" y="319" width="42" height="2"/>
<rect x="467" y="318" width="42" height="2"/>
<rect x="509" y="317" width="43" height="2"/>
<rect x="552" y="316" width="42" height="2"/>
<rect x="594" y="315" width="42" height="2"/>
<rect x="636" y="314" width="42" height="2"/>
<rect x="678" y="313" width="43" height="2"/>
<rect x="721" y="312" width="42" height="2"/>
<rect x="763" y="311" width="42" height="2"/>
<rect x="805" y="310" width="42" height="2"/>
<rect x="847" y="309" width="42" height="2"/>
<rect x="889" y="308" width="43" height="2"/>
<rect x="932" y="307" width="42" height="2"/>
<rect x="974" y="306" width="42" height="2"/>
<rect x="1016" y="305" width="42" height="2"/>
<rect x="1058" y="304" width="43" height="2"/>
<rect x="1101" y="303" width="42" height="2"/>
<rect x="1143" y="302" width="43" height="2"/>
<rect x="1186" y="301" width="42" height="2"/>
</g>
<path d="M46.9 290.1 L58.6 289.3 L69.4 286.4 L79.2 282.5 L89.0 277.9 L96.9 273.0 L106.7 269.1 L118.4 265.8 L128.2 259.9 L138.0 254.0 L147.8 247.2 L157.6 239.3 L167.5 232.8 L177.3 224.0 L185.1 218.1 L194.9 213.2 L206.7 209.3 L216.5 204.4 L226.3 200.1 L236.1 197.2 L245.9 194.6 L255.7 193.2 L265.5 191.7 L275.3 189.7 L283.1 187.7 L290.0 186.1 L297.8 183.7 L305.7 180.2 L313.5 176.9 L321.4 173.3 L329.2 170.0 L339.0 166.5 L348.8 161.6 L358.6 157.3 L368.4 153.7 L378.2 149.4 L386.1 146.5 L393.9 141.0 L401.8 136.1 L409.6 129.2 L417.5 123.3 L427.3 118.4 L435.1 114.5 L442.9 111.2 L450.8 109.6 L458.6 110.2 L466.5 113.1 L474.3 115.5 L484.1 115.5 L493.9 115.1 L501.8 114.9 L509.6 116.1 L517.5 119.4 L525.3 124.3 L533.1 129.2 L539.0 132.7 L540.0 133.6 L549.8 142.1 L559.6 151.4 L569.4 160.5 L579.1 166.6 L588.9 168.5 L598.7 171.5 L608.5 177.6 L618.3 183.7 L628.1 188.6 L637.8 195.9 L647.6 204.5 L657.4 210.6 L667.2 218.0 L677.0 221.1 L686.8 224.8 L696.6 229.0 L706.3 234.6 L716.1 238.0 L725.9 242.4 L735.7 246.6 L745.5 252.2 L752.8 259.1 L760.2 261.5 L769.9 262.5 L778.5 261.5 L780.0 262.1 L789.8 258.4 L799.6 256.0 L809.4 256.7 L819.1 259.2 L828.9 256.7 L838.7 253.5 L848.5 251.1 L858.3 247.4 L868.1 242.5 L877.8 237.1 L887.6 229.1 L897.4 224.2 L907.2 217.6 L917.0 210.7 L926.8 204.6 L936.6 198.5 L946.3 192.4 L956.1 187.0 L965.9 180.1 L975.7 174.0 L985.5 171.6 L995.3 169.1 L1005.0 167.9 L1014.8 166.0 L1020.0 164.5 L1029.8 164.0 L1039.6 164.5 L1049.4 165.2 L1059.1 166.9 L1068.9 170.6 L1078.7 174.2 L1088.5 180.4 L1098.3 186.5 L1108.1 195.0 L1117.8 199.9 L1127.6 204.8 L1137.4 209.7 L1147.2 213.4 L1157.0 220.2 L1166.8 228.8 L1174.1 235.4 L1179.0 237.8" stroke="#ffff00" stroke-width="2.3" fill="none" stroke-linejoin="round" shape-rendering="crispEdges"/>
<line x1="723" y1="306.6" x2="1228" y2="168.0" stroke="#008000" stroke-width="2" shape-rendering="crispEdges"/>
<g shape-rendering="crispEdges">
<rect x="43" y="170" width="1185" height="2" fill="#ff0000"/>
<rect x="43" y="204" width="1185" height="2" fill="#0000ff"/>
<rect x="43" y="283" width="1185" height="2" fill="#008000"/>
<rect x="43" y="333" width="1185" height="2" fill="#008000"/>
</g>
<g stroke="#e00000" stroke-width="1" shape-rendering="crispEdges">
<line x1="403.4" y1="38.4" x2="949.7" y2="406.7"/>
<line x1="463.3" y1="200.4" x2="710.6" y2="373.8"/>
</g>
<g stroke="#f08000" stroke-width="1" shape-rendering="crispEdges">
<polyline points="923.5,99.5 1095.5,199.5 1227,274.8" fill="none"/>
<line x1="955.2" y1="189.4" x2="1227.3" y2="334.5"/>
</g>
<g shape-rendering="crispEdges">
<rect x="42" y="0" width="1187" height="1" fill="#fff"/>
<rect x="42" y="408" width="1187" height="1" fill="#fff"/>
<rect x="42" y="0" width="1" height="409" fill="#fff"/>
<rect x="1228" y="0" width="1" height="409" fill="#fff"/>
<rect x="36" y="399" width="6" height="1" fill="#fff"/>
<rect x="1229" y="399" width="6" height="1" fill="#fff"/>
<rect x="36" y="382" width="6" height="1" fill="#fff"/>
<rect x="1229" y="382" width="6" height="1" fill="#fff"/>
<rect x="39" y="390" width="3" height="1" fill="#fff"/>
<rect x="1229" y="390" width="3" height="1" fill="#fff"/>
<rect x="36" y="365" width="6" height="1" fill="#fff"/>
<rect x="1229" y="365" width="6" height="1" fill="#fff"/>
<rect x="39" y="373" width="3" height="1" fill="#fff"/>
<rect x="1229" y="373" width="3" height="1" fill="#fff"/>
<rect x="36" y="348" width="6" height="1" fill="#fff"/>
<rect x="1229" y="348" width="6" height="1" fill="#fff"/>
<rect x="39" y="357" width="3" height="1" fill="#fff"/>
<rect x="1229" y="357" width="3" height="1" fill="#fff"/>
<rect x="36" y="331" width="6" height="1" fill="#fff"/>
<rect x="1229" y="331" width="6" height="1" fill="#fff"/>
<rect x="39" y="340" width="3" height="1" fill="#fff"/>
<rect x="1229" y="340" width="3" height="1" fill="#fff"/>
<rect x="36" y="314" width="6" height="1" fill="#fff"/>
<rect x="1229" y="314" width="6" height="1" fill="#fff"/>
<rect x="39" y="323" width="3" height="1" fill="#fff"/>
<rect x="1229" y="323" width="3" height="1" fill="#fff"/>
<rect x="36" y="297" width="6" height="1" fill="#fff"/>
<rect x="1229" y="297" width="6" height="1" fill="#fff"/>
<rect x="39" y="306" width="3" height="1" fill="#fff"/>
<rect x="1229" y="306" width="3" height="1" fill="#fff"/>
<rect x="36" y="280" width="6" height="1" fill="#fff"/>
<rect x="1229" y="280" width="6" height="1" fill="#fff"/>
<rect x="39" y="289" width="3" height="1" fill="#fff"/>
<rect x="1229" y="289" width="3" height="1" fill="#fff"/>
<rect x="36" y="263" width="6" height="1" fill="#fff"/>
<rect x="1229" y="263" width="6" height="1" fill="#fff"/>
<rect x="39" y="272" width="3" height="1" fill="#fff"/>
<rect x="1229" y="272" width="3" height="1" fill="#fff"/>
<rect x="36" y="246" width="6" height="1" fill="#fff"/>
<rect x="1229" y="246" width="6" height="1" fill="#fff"/>
<rect x="39" y="255" width="3" height="1" fill="#fff"/>
<rect x="1229" y="255" width="3" height="1" fill="#fff"/>
<rect x="36" y="229" width="6" height="1" fill="#fff"/>
<rect x="1229" y="229" width="6" height="1" fill="#fff"/>
<rect x="39" y="238" width="3" height="1" fill="#fff"/>
<rect x="1229" y="238" width="3" height="1" fill="#fff"/>
<rect x="36" y="212" width="6" height="1" fill="#fff"/>
<rect x="1229" y="212" width="6" height="1" fill="#fff"/>
<rect x="39" y="221" width="3" height="1" fill="#fff"/>
<rect x="1229" y="221" width="3" height="1" fill="#fff"/>
<rect x="36" y="195" width="6" height="1" fill="#fff"/>
<rect x="1229" y="195" width="6" height="1" fill="#fff"/>
<rect x="39" y="204" width="3" height="1" fill="#fff"/>
<rect x="1229" y="204" width="3" height="1" fill="#fff"/>
<rect x="36" y="179" width="6" height="1" fill="#fff"/>
<rect x="1229" y="179" width="6" height="1" fill="#fff"/>
<rect x="39" y="187" width="3" height="1" fill="#fff"/>
<rect x="1229" y="187" width="3" height="1" fill="#fff"/>
<rect x="36" y="162" width="6" height="1" fill="#fff"/>
<rect x="1229" y="162" width="6" height="1" fill="#fff"/>
<rect x="39" y="170" width="3" height="1" fill="#fff"/>
<rect x="1229" y="170" width="3" height="1" fill="#fff"/>
<rect x="36" y="145" width="6" height="1" fill="#fff"/>
<rect x="1229" y="145" width="6" height="1" fill="#fff"/>
<rect x="39" y="153" width="3" height="1" fill="#fff"/>
<rect x="1229" y="153" width="3" height="1" fill="#fff"/>
<rect x="36" y="128" width="6" height="1" fill="#fff"/>
<rect x="1229" y="128" width="6" height="1" fill="#fff"/>
<rect x="39" y="136" width="3" height="1" fill="#fff"/>
<rect x="1229" y="136" width="3" height="1" fill="#fff"/>
<rect x="36" y="111" width="6" height="1" fill="#fff"/>
<rect x="1229" y="111" width="6" height="1" fill="#fff"/>
<rect x="39" y="119" width="3" height="1" fill="#fff"/>
<rect x="1229" y="119" width="3" height="1" fill="#fff"/>
<rect x="36" y="94" width="6" height="1" fill="#fff"/>
<rect x="1229" y="94" width="6" height="1" fill="#fff"/>
<rect x="39" y="102" width="3" height="1" fill="#fff"/>
<rect x="1229" y="102" width="3" height="1" fill="#fff"/>
<rect x="36" y="77" width="6" height="1" fill="#fff"/>
<rect x="1229" y="77" width="6" height="1" fill="#fff"/>
<rect x="39" y="85" width="3" height="1" fill="#fff"/>
<rect x="1229" y="85" width="3" height="1" fill="#fff"/>
<rect x="36" y="60" width="6" height="1" fill="#fff"/>
<rect x="1229" y="60" width="6" height="1" fill="#fff"/>
<rect x="39" y="68" width="3" height="1" fill="#fff"/>
<rect x="1229" y="68" width="3" height="1" fill="#fff"/>
<rect x="36" y="43" width="6" height="1" fill="#fff"/>
<rect x="1229" y="43" width="6" height="1" fill="#fff"/>
<rect x="39" y="51" width="3" height="1" fill="#fff"/>
<rect x="1229" y="51" width="3" height="1" fill="#fff"/>
<rect x="36" y="26" width="6" height="1" fill="#fff"/>
<rect x="1229" y="26" width="6" height="1" fill="#fff"/>
<rect x="39" y="34" width="3" height="1" fill="#fff"/>
<rect x="1229" y="34" width="3" height="1" fill="#fff"/>
<rect x="36" y="9" width="6" height="1" fill="#fff"/>
<rect x="1229" y="9" width="6" height="1" fill="#fff"/>
<rect x="39" y="17" width="3" height="1" fill="#fff"/>
<rect x="1229" y="17" width="3" height="1" fill="#fff"/>
</g>
<text x="1.54702" y="404" textLength="32.95" lengthAdjust="spacingAndGlyphs">41 000</text>
<text x="1237" y="404" textLength="32.95" lengthAdjust="spacingAndGlyphs">41 000</text>
<text x="1.54702" y="387" textLength="32.95" lengthAdjust="spacingAndGlyphs">42 000</text>
<text x="1237" y="387" textLength="32.95" lengthAdjust="spacingAndGlyphs">42 000</text>
<text x="1.54702" y="370" textLength="32.95" lengthAdjust="spacingAndGlyphs">43 000</text>
<text x="1237" y="370" textLength="32.95" lengthAdjust="spacingAndGlyphs">43 000</text>
<text x="1.54702" y="353" textLength="32.95" lengthAdjust="spacingAndGlyphs">44 000</text>
<text x="1237" y="353" textLength="32.95" lengthAdjust="spacingAndGlyphs">44 000</text>
<text x="1.54702" y="336" textLength="32.95" lengthAdjust="spacingAndGlyphs">45 000</text>
<text x="1237" y="336" textLength="32.95" lengthAdjust="spacingAndGlyphs">45 000</text>
<text x="1.54702" y="319" textLength="32.95" lengthAdjust="spacingAndGlyphs">46 000</text>
<text x="1237" y="319" textLength="32.95" lengthAdjust="spacingAndGlyphs">46 000</text>
<text x="1.54702" y="302" textLength="32.95" lengthAdjust="spacingAndGlyphs">47 000</text>
<text x="1237" y="302" textLength="32.95" lengthAdjust="spacingAndGlyphs">47 000</text>
<text x="1.54702" y="285" textLength="32.95" lengthAdjust="spacingAndGlyphs">48 000</text>
<text x="1237" y="285" textLength="32.95" lengthAdjust="spacingAndGlyphs">48 000</text>
<text x="1.54702" y="268" textLength="32.95" lengthAdjust="spacingAndGlyphs">49 000</text>
<text x="1237" y="268" textLength="32.95" lengthAdjust="spacingAndGlyphs">49 000</text>
<text x="1.54702" y="251" textLength="32.95" lengthAdjust="spacingAndGlyphs">50 000</text>
<text x="1237" y="251" textLength="32.95" lengthAdjust="spacingAndGlyphs">50 000</text>
<text x="1.54702" y="234" textLength="32.95" lengthAdjust="spacingAndGlyphs">51 000</text>
<text x="1237" y="234" textLength="32.95" lengthAdjust="spacingAndGlyphs">51 000</text>
<text x="1.54702" y="217" textLength="32.95" lengthAdjust="spacingAndGlyphs">52 000</text>
<text x="1237" y="217" textLength="32.95" lengthAdjust="spacingAndGlyphs">52 000</text>
<text x="1.54702" y="200" textLength="32.95" lengthAdjust="spacingAndGlyphs">53 000</text>
<text x="1237" y="200" textLength="32.95" lengthAdjust="spacingAndGlyphs">53 000</text>
<text x="1.54702" y="184" textLength="32.95" lengthAdjust="spacingAndGlyphs">54 000</text>
<text x="1237" y="184" textLength="32.95" lengthAdjust="spacingAndGlyphs">54 000</text>
<text x="1.54702" y="167" textLength="32.95" lengthAdjust="spacingAndGlyphs">55 000</text>
<text x="1237" y="167" textLength="32.95" lengthAdjust="spacingAndGlyphs">55 000</text>
<text x="1.54702" y="150" textLength="32.95" lengthAdjust="spacingAndGlyphs">56 000</text>
<text x="1237" y="150" textLength="32.95" lengthAdjust="spacingAndGlyphs">56 000</text>
<text x="1.54702" y="133" textLength="32.95" lengthAdjust="spacingAndGlyphs">57 000</text>
<text x="1237" y="133" textLength="32.95" lengthAdjust="spacingAndGlyphs">57 000</text>
<text x="1.54702" y="116" textLength="32.95" lengthAdjust="spacingAndGlyphs">58 000</text>
<text x="1237" y="116" textLength="32.95" lengthAdjust="spacingAndGlyphs">58 000</text>
<text x="1.54702" y="99" textLength="32.95" lengthAdjust="spacingAndGlyphs">59 000</text>
<text x="1237" y="99" textLength="32.95" lengthAdjust="spacingAndGlyphs">59 000</text>
<text x="1.54702" y="82" textLength="32.95" lengthAdjust="spacingAndGlyphs">60 000</text>
<text x="1237" y="82" textLength="32.95" lengthAdjust="spacingAndGlyphs">60 000</text>
<text x="1.54702" y="65" textLength="32.95" lengthAdjust="spacingAndGlyphs">61 000</text>
<text x="1237" y="65" textLength="32.95" lengthAdjust="spacingAndGlyphs">61 000</text>
<text x="1.54702" y="48" textLength="32.95" lengthAdjust="spacingAndGlyphs">62 000</text>
<text x="1237" y="48" textLength="32.95" lengthAdjust="spacingAndGlyphs">62 000</text>
<text x="1.54702" y="31" textLength="32.95" lengthAdjust="spacingAndGlyphs">63 000</text>
<text x="1237" y="31" textLength="32.95" lengthAdjust="spacingAndGlyphs">63 000</text>
<text x="1.54702" y="14" textLength="32.95" lengthAdjust="spacingAndGlyphs">64 000</text>
<text x="1237" y="14" textLength="32.95" lengthAdjust="spacingAndGlyphs">64 000</text>
<rect x="1236" y="165" width="40" height="13" fill="#ff0000" shape-rendering="crispEdges"/>
<text x="1237" y="176" textLength="38.94" lengthAdjust="spacingAndGlyphs">54429.3</text>
<rect x="1236" y="199" width="40" height="13" fill="#0000ff" shape-rendering="crispEdges"/>
<text x="1237" y="210" textLength="38.94" lengthAdjust="spacingAndGlyphs">52466.6</text>
<rect x="1236" y="278" width="40" height="13" fill="#008000" shape-rendering="crispEdges"/>
<text x="1237" y="289" textLength="38.94" lengthAdjust="spacingAndGlyphs">47798.0</text>
<path d="M1234.5 278 V291.5 H1276" stroke="#fff" stroke-width="1" fill="none" shape-rendering="crispEdges"/>
<rect x="1236" y="328" width="40" height="13" fill="#008000" shape-rendering="crispEdges"/>
<text x="1237" y="339" textLength="38.94" lengthAdjust="spacingAndGlyphs">44827.8</text>
<g shape-rendering="crispEdges">
<rect x="18" y="421" width="15" height="1" fill="#fff"/>
<rect x="176" y="420" width="16" height="2" fill="#ffff00"/>
<rect x="0" y="429" width="1275" height="2" fill="#fff"/>
<rect x="0" y="431" width="1275" height="1" fill="#d4d0c8"/>
</g>
<text x="44" y="425" textLength="107.82" lengthAdjust="spacingAndGlyphs">BOVESPABrazil [Price]</text>
<text x="202" y="425" textLength="161.23" lengthAdjust="spacingAndGlyphs">BOVESPABrazil [Moving Average]</text>
<g shape-rendering="crispEdges">
<g stroke="#808080" stroke-width="1" stroke-dasharray="3 3" fill="none">
<line x1="43" y1="440.5" x2="1228" y2="440.5"/>
<line x1="43" y1="458.5" x2="1228" y2="458.5"/>
<line x1="43" y1="475.5" x2="1228" y2="475.5"/>
<line x1="43" y1="509.5" x2="1228" y2="509.5"/>
<line x1="43" y1="526.5" x2="1228" y2="526.5"/>
<line x1="43" y1="543.5" x2="1228" y2="543.5"/>
<line x1="66.5" y1="439" x2="66.5" y2="561" stroke-dashoffset="1"/>
<line x1="111.5" y1="439" x2="111.5" y2="561" stroke-dashoffset="1"/>
<line x1="158.5" y1="439" x2="158.5" y2="561" stroke-dashoffset="1"/>
<line x1="206.5" y1="439" x2="206.5" y2="561" stroke-dashoffset="1"/>
<line x1="257.5" y1="439" x2="257.5" y2="561" stroke-dashoffset="1"/>
<line x1="301.5" y1="439" x2="301.5" y2="561" stroke-dashoffset="1"/>
<line x1="349.5" y1="439" x2="349.5" y2="561" stroke-dashoffset="1"/>
<line x1="396.5" y1="439" x2="396.5" y2="561" stroke-dashoffset="1"/>
<line x1="444.5" y1="439" x2="444.5" y2="561" stroke-dashoffset="1"/>
<line x1="492.5" y1="439" x2="492.5" y2="561" stroke-dashoffset="1"/>
<line x1="539.5" y1="439" x2="539.5" y2="561" stroke-dashoffset="1"/>
<line x1="584.5" y1="439" x2="584.5" y2="561" stroke-dashoffset="1"/>
<line x1="631.5" y1="439" x2="631.5" y2="561" stroke-dashoffset="1"/>
<line x1="682.5" y1="439" x2="682.5" y2="561" stroke-dashoffset="1"/>
<line x1="730.5" y1="439" x2="730.5" y2="561" stroke-dashoffset="1"/>
<line x1="787.5" y1="439" x2="787.5" y2="561" stroke-dashoffset="1"/>
<line x1="834.5" y1="439" x2="834.5" y2="561" stroke-dashoffset="1"/>
<line x1="882.5" y1="439" x2="882.5" y2="561" stroke-dashoffset="1"/>
<line x1="936.5" y1="439" x2="936.5" y2="561" stroke-dashoffset="1"/>
<line x1="984.5" y1="439" x2="984.5" y2="561" stroke-dashoffset="1"/>
<line x1="1028.5" y1="439" x2="1028.5" y2="561" stroke-dashoffset="1"/>
<line x1="1073.5" y1="439" x2="1073.5" y2="561" stroke-dashoffset="1"/>
<line x1="1120.5" y1="439" x2="1120.5" y2="561" stroke-dashoffset="1"/>
<line x1="1168.5" y1="439" x2="1168.5" y2="561" stroke-dashoffset="1"/>
</g>
<rect x="43" y="491" width="1185" height="2" fill="#ff0000"/>
</g>
<path d="M44.3 503.7 L48.8 495.8 L53.7 488.0 L58.6 480.2 L63.5 472.3 L69.4 463.5 L75.3 457.6 L81.2 453.3 L87.1 452.3 L92.9 452.9 L98.8 454.7 L104.7 456.2 L110.6 458.0 L116.5 460.5 L122.4 463.1 L128.2 464.1 L134.1 464.1 L140.0 463.9 L145.9 462.5 L151.8 461.1 L157.6 460.9 L163.5 463.1 L169.4 465.8 L175.3 469.4 L181.2 473.3 L187.1 478.2 L192.9 484.1 L198.8 487.4 L204.7 490.5 L212.5 490.5 L217.5 487.4 L222.4 485.1 L228.2 479.2 L234.1 475.3 L240.0 472.7 L245.9 472.7 L251.8 474.3 L257.6 477.2 L263.5 481.5 L269.4 486.0 L275.3 489.0 L281.2 490.0 L287.1 488.6 L290.0 486.4 L295.9 484.1 L301.8 478.2 L307.6 472.9 L313.5 467.4 L319.4 463.5 L325.3 461.5 L329.2 461.5 L335.1 464.5 L341.0 467.8 L346.9 472.3 L352.7 476.8 L358.6 480.2 L364.5 482.7 L370.4 482.7 L376.3 480.2 L382.2 478.2 L386.1 475.3 L392.0 468.4 L397.8 463.5 L403.7 458.6 L408.6 455.6 L413.5 455.3 L418.4 457.2 L423.3 461.1 L429.2 468.4 L435.1 475.3 L441.0 482.1 L446.9 488.0 L452.7 492.9 L458.6 496.8 L464.5 504.7 L470.4 511.5 L476.3 516.4 L481.2 518.4 L487.1 518.4 L492.0 516.4 L497.8 510.5 L503.7 505.6 L508.6 504.3 L513.5 506.2 L518.4 510.2 L523.3 517.4 L529.2 524.3 L535.1 531.1 L540.0 533.5 L547.8 531.1 L555.7 525.3 L562.5 518.8 L568.4 517.4 L574.3 517.4 L581.2 515.5 L587.1 510.5 L592.9 503.7 L598.8 497.8 L604.7 493.5 L609.6 493.9 L614.5 495.8 L619.4 499.8 L624.3 506.6 L629.2 514.5 L634.1 521.3 L640.0 528.2 L644.9 533.1 L649.8 536.0 L654.7 536.0 L659.6 533.1 L665.5 528.2 L671.4 524.3 L677.3 520.7 L683.1 520.4 L689.0 520.4 L694.9 520.4 L700.8 519.4 L706.7 517.4 L712.5 515.5 L718.4 513.5 L723.3 511.5 L729.2 510.9 L734.1 509.6 L740.0 507.6 L745.9 505.6 L751.8 503.1 L757.6 500.4 L763.5 494.9 L769.4 489.4 L775.3 483.5 L781.2 477.2 L786.1 472.9 L790.0 469.8 L797.8 469.4 L803.7 472.3 L808.6 477.2 L814.5 484.1 L820.4 489.0 L826.3 493.3 L832.2 493.3 L840.0 490.5 L845.9 485.6 L852.7 482.1 L858.6 479.6 L864.5 476.8 L870.4 474.3 L875.3 472.3 L880.2 468.4 L886.1 464.1 L892.0 461.1 L897.8 460.2 L903.7 458.6 L909.6 457.6 L915.5 457.0 L921.4 456.0 L927.3 453.3 L933.1 452.1 L939.0 452.3 L946.9 452.7 L952.7 455.3 L958.6 459.6 L964.5 465.5 L970.4 472.3 L976.3 481.1 L982.2 488.6 L988.0 495.8 L993.9 501.1 L999.8 504.7 L1005.7 507.6 L1011.6 508.6 L1017.5 508.6 L1023.3 508.6 L1025.0 507.2 L1030.9 505.1 L1036.8 503.7 L1042.6 501.7 L1048.5 500.7 L1054.4 500.7 L1060.3 501.7 L1066.2 503.7 L1072.1 504.7 L1077.9 505.6 L1083.8 504.7 L1089.7 504.3 L1095.6 505.1 L1101.5 507.6 L1107.4 512.5 L1113.2 516.8 L1119.1 520.7 L1125.0 522.7 L1127.0 523.3 L1132.8 522.3 L1138.7 521.9 L1144.6 521.7 L1150.5 522.9 L1156.4 525.6 L1162.3 528.6 L1167.2 532.1 L1172.1 537.0 L1177.0 539.6" stroke="#ffffff" stroke-width="1" fill="none" stroke-linejoin="round" shape-rendering="crispEdges"/>
<path d="M46.5 483.5 L50.8 473.3 L55.7 467.4 L60.6 457.6 L64.5 454.7 L67.5 450.7 L71.4 449.4 L75.3 450.2 L79.2 451.3 L84.1 451.7 L87.1 454.7 L92.0 457.2 L95.9 456.0 L100.8 457.0 L105.7 460.2 L110.6 462.5 L115.5 465.1 L119.4 467.0 L122.4 469.0 L126.3 465.5 L131.2 462.5 L135.1 459.2 L138.0 459.6 L142.0 461.1 L146.9 460.2 L151.8 459.2 L155.7 460.2 L159.6 463.5 L164.5 468.4 L169.4 474.3 L174.3 477.2 L179.2 481.5 L185.1 484.1 L190.0 489.4 L194.9 493.9 L201.8 496.4 L206.7 490.9 L210.6 484.1 L214.5 478.2 L218.4 474.7 L223.3 472.9 L228.2 471.7 L234.1 469.4 L238.0 470.9 L243.9 475.3 L248.8 479.6 L253.7 484.1 L258.6 487.4 L262.5 490.5 L267.5 491.3 L273.3 490.5 L278.2 490.0 L283.1 485.1 L290.0 479.2 L293.9 476.6 L297.8 474.3 L301.8 468.4 L306.7 462.5 L311.6 459.6 L316.5 458.2 L320.4 458.2 L324.3 461.1 L328.2 465.5 L332.2 470.4 L337.1 473.9 L342.0 477.2 L347.8 481.1 L352.7 481.5 L356.7 484.7 L360.6 486.0 L364.5 484.7 L368.4 481.5 L372.4 476.2 L376.3 471.7 L381.2 469.4 L386.1 465.5 L390.0 460.2 L393.9 457.6 L397.8 453.7 L401.8 451.3 L404.7 450.7 L408.6 452.7 L412.5 456.6 L416.5 463.5 L421.4 471.3 L426.3 480.2 L430.2 485.6 L435.1 486.0 L439.0 487.0 L442.9 490.5 L446.9 495.8 L451.8 501.1 L455.7 504.7 L459.6 506.2 L463.5 513.5 L467.5 521.3 L471.4 527.8 L475.3 529.2 L478.2 522.3 L482.2 514.5 L486.1 508.2 L490.0 507.6 L493.9 502.7 L497.8 498.4 L500.8 499.8 L503.7 504.3 L507.6 504.7 L511.6 510.5 L515.5 519.4 L519.4 528.2 L523.3 535.1 L526.3 539.0 L529.2 538.0 L533.1 540.0 L536.1 536.0 L540.0 527.2 L543.9 521.3 L548.8 518.4 L554.7 516.8 L559.6 516.4 L564.5 514.5 L569.4 517.0 L574.3 519.0 L578.2 516.4 L582.2 506.6 L586.1 496.8 L591.0 488.6 L594.9 486.0 L598.2 485.5 L601.8 489.4 L605.7 496.8 L610.6 502.7 L614.5 505.6 L618.4 512.5 L622.4 517.4 L626.3 522.3 L630.2 528.2 L633.1 537.0 L637.1 543.9 L642.9 543.5 L646.9 537.0 L650.8 529.2 L655.7 523.3 L659.6 518.8 L663.1 517.4 L666.5 521.3 L670.4 525.3 L675.3 521.3 L679.2 518.0 L682.2 517.4 L686.1 518.8 L691.0 521.3 L694.9 521.3 L698.8 518.4 L703.7 518.0 L708.6 512.5 L713.5 509.0 L718.4 507.6 L723.3 508.2 L728.2 511.5 L732.2 512.1 L736.1 507.6 L742.0 501.7 L747.8 497.8 L752.7 497.2 L755.7 498.4 L759.6 491.9 L763.5 484.1 L768.4 478.2 L773.3 474.3 L777.3 469.4 L782.2 467.0 L787.1 466.8 L790.0 467.4 L793.9 470.4 L798.8 474.3 L803.7 480.2 L808.6 490.0 L812.5 494.9 L817.5 499.2 L821.4 500.4 L824.3 498.4 L828.2 490.9 L832.2 485.1 L836.1 480.2 L840.0 478.8 L843.9 477.8 L847.8 480.7 L850.8 482.1 L855.7 480.7 L859.6 477.2 L864.5 470.9 L869.4 466.4 L873.3 463.1 L878.2 461.1 L883.1 458.2 L887.1 458.6 L891.0 457.2 L894.9 458.2 L898.8 460.5 L902.7 458.6 L906.7 454.7 L911.6 454.7 L915.5 455.6 L919.4 455.3 L923.3 451.3 L926.3 449.4 L930.2 449.4 L935.1 451.3 L940.0 453.3 L944.9 457.2 L949.8 459.2 L954.7 461.9 L959.6 471.3 L964.5 478.2 L969.4 485.1 L974.3 492.9 L979.2 498.8 L983.1 502.7 L986.1 505.6 L989.0 504.3 L992.9 506.2 L997.8 509.6 L1001.8 511.5 L1006.7 509.0 L1011.6 508.2 L1017.5 507.0 L1022.4 505.6 L1025.0 502.7 L1030.9 500.4 L1036.8 499.4 L1040.7 500.7 L1044.6 499.4 L1049.5 501.7 L1054.4 502.3 L1059.3 503.7 L1064.2 506.2 L1070.1 508.6 L1075.0 505.1 L1079.9 502.7 L1084.8 501.1 L1088.7 502.7 L1093.6 505.6 L1098.5 510.2 L1102.5 518.4 L1106.4 525.3 L1109.3 526.6 L1114.2 525.6 L1118.1 524.9 L1121.1 521.3 L1125.0 520.4 L1128.9 519.4 L1131.9 518.4 L1135.8 521.3 L1140.7 521.3 L1145.6 523.3 L1150.5 527.2 L1155.4 531.7 L1160.3 535.1 L1165.2 538.0 L1169.1 544.9 L1173.0 549.4 L1176.0 547.8 L1177.9 543.9 L1179.9 540.9" stroke="#ff0000" stroke-width="1" fill="none" stroke-linejoin="round" shape-rendering="crispEdges"/>
<g shape-rendering="crispEdges">
<rect x="42" y="438" width="1187" height="1" fill="#fff"/>
<rect x="42" y="561" width="1187" height="1" fill="#fff"/>
<rect x="42" y="438" width="1" height="124" fill="#fff"/>
<rect x="1228" y="438" width="1" height="124" fill="#fff"/>
<rect x="36" y="440" width="6" height="1" fill="#fff"/>
<rect x="1229" y="440" width="6" height="1" fill="#fff"/>
<rect x="36" y="458" width="6" height="1" fill="#fff"/>
<rect x="1229" y="458" width="6" height="1" fill="#fff"/>
<rect x="36" y="475" width="6" height="1" fill="#fff"/>
<rect x="1229" y="475" width="6" height="1" fill="#fff"/>
<rect x="36" y="492" width="6" height="1" fill="#fff"/>
<rect x="1229" y="492" width="6" height="1" fill="#fff"/>
<rect x="36" y="509" width="6" height="1" fill="#fff"/>
<rect x="1229" y="509" width="6" height="1" fill="#fff"/>
<rect x="36" y="526" width="6" height="1" fill="#fff"/>
<rect x="1229" y="526" width="6" height="1" fill="#fff"/>
<rect x="36" y="543" width="6" height="1" fill="#fff"/>
<rect x="1229" y="543" width="6" height="1" fill="#fff"/>
<rect x="39" y="449" width="3" height="1" fill="#fff"/>
<rect x="1229" y="449" width="3" height="1" fill="#fff"/>
<rect x="39" y="466" width="3" height="1" fill="#fff"/>
<rect x="1229" y="466" width="3" height="1" fill="#fff"/>
<rect x="39" y="483" width="3" height="1" fill="#fff"/>
<rect x="1229" y="483" width="3" height="1" fill="#fff"/>
<rect x="39" y="500" width="3" height="1" fill="#fff"/>
<rect x="1229" y="500" width="3" height="1" fill="#fff"/>
<rect x="39" y="518" width="3" height="1" fill="#fff"/>
<rect x="1229" y="518" width="3" height="1" fill="#fff"/>
<rect x="39" y="535" width="3" height="1" fill="#fff"/>
<rect x="1229" y="535" width="3" height="1" fill="#fff"/>
<rect x="39" y="552" width="3" height="1" fill="#fff"/>
<rect x="1229" y="552" width="3" height="1" fill="#fff"/>
</g>
<text x="28.5081" y="445" textLength="5.99" lengthAdjust="spacingAndGlyphs">3</text>
<text x="1237" y="445" textLength="5.99" lengthAdjust="spacingAndGlyphs">3</text>
<text x="28.5081" y="463" textLength="5.99" lengthAdjust="spacingAndGlyphs">2</text>
<text x="1237" y="463" textLength="5.99" lengthAdjust="spacingAndGlyphs">2</text>
<text x="28.5081" y="480" textLength="5.99" lengthAdjust="spacingAndGlyphs">1</text>
<text x="1237" y="480" textLength="5.99" lengthAdjust="spacingAndGlyphs">1</text>
<text x="28.5081" y="497" textLength="5.99" lengthAdjust="spacingAndGlyphs">0</text>
<text x="1237" y="497" textLength="5.99" lengthAdjust="spacingAndGlyphs">0</text>
<text x="24.9204" y="514" textLength="9.58" lengthAdjust="spacingAndGlyphs">-1</text>
<text x="1237" y="514" textLength="9.58" lengthAdjust="spacingAndGlyphs">-1</text>
<text x="24.9204" y="531" textLength="9.58" lengthAdjust="spacingAndGlyphs">-2</text>
<text x="1237" y="531" textLength="9.58" lengthAdjust="spacingAndGlyphs">-2</text>
<text x="24.9204" y="548" textLength="9.58" lengthAdjust="spacingAndGlyphs">-3</text>
<text x="1237" y="548" textLength="9.58" lengthAdjust="spacingAndGlyphs">-3</text>
<rect x="18" y="574" width="15" height="1" fill="#ff0000" shape-rendering="crispEdges"/>
<text x="44" y="578" textLength="114.23" lengthAdjust="spacingAndGlyphs">BOVESPABrazil [MACD]</text>
<g shape-rendering="crispEdges">
<rect x="42" y="583" width="1187" height="1" fill="#fff"/>
<rect x="42" y="598" width="1187" height="1" fill="#fff"/>
<rect x="42" y="583" width="1" height="30" fill="#fff"/>
<rect x="66" y="583" width="1" height="15" fill="#fff"/>
<rect x="111" y="583" width="1" height="15" fill="#fff"/>
<rect x="158" y="583" width="1" height="15" fill="#fff"/>
<rect x="206" y="583" width="1" height="15" fill="#fff"/>
<rect x="257" y="583" width="1" height="15" fill="#fff"/>
<rect x="301" y="583" width="1" height="15" fill="#fff"/>
<rect x="349" y="583" width="1" height="15" fill="#fff"/>
<rect x="396" y="583" width="1" height="15" fill="#fff"/>
<rect x="444" y="583" width="1" height="15" fill="#fff"/>
<rect x="492" y="583" width="1" height="15" fill="#fff"/>
<rect x="539" y="583" width="1" height="15" fill="#fff"/>
<rect x="584" y="583" width="1" height="15" fill="#fff"/>
<rect x="631" y="583" width="1" height="15" fill="#fff"/>
<rect x="682" y="583" width="1" height="15" fill="#fff"/>
<rect x="730" y="583" width="1" height="15" fill="#fff"/>
<rect x="787" y="583" width="1" height="15" fill="#fff"/>
<rect x="834" y="583" width="1" height="15" fill="#fff"/>
<rect x="882" y="583" width="1" height="15" fill="#fff"/>
<rect x="936" y="583" width="1" height="15" fill="#fff"/>
<rect x="984" y="583" width="1" height="15" fill="#fff"/>
<rect x="1028" y="583" width="1" height="15" fill="#fff"/>
<rect x="1073" y="583" width="1" height="15" fill="#fff"/>
<rect x="1120" y="583" width="1" height="15" fill="#fff"/>
<rect x="1168" y="583" width="1" height="15" fill="#fff"/>
<rect x="54" y="598" width="1" height="15" fill="#fff"/>
<rect x="120" y="598" width="1" height="15" fill="#fff"/>
<rect x="190" y="598" width="1" height="15" fill="#fff"/>
<rect x="260" y="598" width="1" height="15" fill="#fff"/>
<rect x="330" y="598" width="1" height="15" fill="#fff"/>
<rect x="396" y="598" width="1" height="15" fill="#fff"/>
<rect x="466" y="598" width="1" height="15" fill="#fff"/>
<rect x="539" y="598" width="1" height="15" fill="#fff"/>
<rect x="600" y="598" width="1" height="15" fill="#fff"/>
<rect x="663" y="598" width="1" height="15" fill="#fff"/>
<rect x="730" y="598" width="1" height="15" fill="#fff"/>
<rect x="787" y="598" width="1" height="15" fill="#fff"/>
<rect x="857" y="598" width="1" height="15" fill="#fff"/>
<rect x="920" y="598" width="1" height="15" fill="#fff"/>
<rect x="984" y="598" width="1" height="15" fill="#fff"/>
<rect x="1050" y="598" width="1" height="15" fill="#fff"/>
<rect x="1120" y="598" width="1" height="15" fill="#fff"/>
</g>
<text x="71" y="595" textLength="5.99" lengthAdjust="spacingAndGlyphs">7</text>
<text x="116" y="595" textLength="11.98" lengthAdjust="spacingAndGlyphs">28</text>
<text x="163" y="595" textLength="11.98" lengthAdjust="spacingAndGlyphs">19</text>
<text x="211" y="595" textLength="5.99" lengthAdjust="spacingAndGlyphs">9</text>
<text x="262" y="595" textLength="11.98" lengthAdjust="spacingAndGlyphs">30</text>
<text x="306" y="595" textLength="11.98" lengthAdjust="spacingAndGlyphs">21</text>
<text x="354" y="595" textLength="11.18" lengthAdjust="spacingAndGlyphs">11</text>
<text x="401" y="595" textLength="5.99" lengthAdjust="spacingAndGlyphs">1</text>
<text x="449" y="595" textLength="11.98" lengthAdjust="spacingAndGlyphs">22</text>
<text x="497" y="595" textLength="11.98" lengthAdjust="spacingAndGlyphs">13</text>
<text x="544" y="595" textLength="5.99" lengthAdjust="spacingAndGlyphs">3</text>
<text x="589" y="595" textLength="11.98" lengthAdjust="spacingAndGlyphs">24</text>
<text x="636" y="595" textLength="11.98" lengthAdjust="spacingAndGlyphs">15</text>
<text x="687" y="595" textLength="11.98" lengthAdjust="spacingAndGlyphs">12</text>
<text x="735" y="595" textLength="5.99" lengthAdjust="spacingAndGlyphs">2</text>
<text x="792" y="595" textLength="5.99" lengthAdjust="spacingAndGlyphs">2</text>
<text x="839" y="595" textLength="11.98" lengthAdjust="spacingAndGlyphs">23</text>
<text x="887" y="595" textLength="11.98" lengthAdjust="spacingAndGlyphs">13</text>
<text x="941" y="595" textLength="11.18" lengthAdjust="spacingAndGlyphs">11</text>
<text x="989" y="595" textLength="5.99" lengthAdjust="spacingAndGlyphs">1</text>
<text x="1033" y="595" textLength="11.98" lengthAdjust="spacingAndGlyphs">22</text>
<text x="1078" y="595" textLength="11.98" lengthAdjust="spacingAndGlyphs">13</text>
<text x="1125" y="595" textLength="5.99" lengthAdjust="spacingAndGlyphs">3</text>
<text x="1173" y="595" textLength="11.98" lengthAdjust="spacingAndGlyphs">24</text>
<text x="58" y="610" textLength="16.77" lengthAdjust="spacingAndGlyphs">Apr</text>
<text x="124" y="610" textLength="20.35" lengthAdjust="spacingAndGlyphs">May</text>
<text x="194" y="610" textLength="17.37" lengthAdjust="spacingAndGlyphs">Jun</text>
<text x="264" y="610" textLength="13.77" lengthAdjust="spacingAndGlyphs">Jul</text>
<text x="334" y="610" textLength="19.17" lengthAdjust="spacingAndGlyphs">Aug</text>
<text x="400" y="610" textLength="19.17" lengthAdjust="spacingAndGlyphs">Sep</text>
<text x="470" y="610" textLength="16.76" lengthAdjust="spacingAndGlyphs">Oct</text>
<text x="543" y="610" textLength="19.16" lengthAdjust="spacingAndGlyphs">Nov</text>
<text x="604" y="610" textLength="19.16" lengthAdjust="spacingAndGlyphs">Dec</text>
<text x="667" y="610" textLength="23.97" lengthAdjust="spacingAndGlyphs">2015</text>
<text x="734" y="610" textLength="18.56" lengthAdjust="spacingAndGlyphs">Feb</text>
<text x="791" y="610" textLength="18.55" lengthAdjust="spacingAndGlyphs">Mar</text>
<text x="861" y="610" textLength="16.77" lengthAdjust="spacingAndGlyphs">Apr</text>
<text x="924" y="610" textLength="20.35" lengthAdjust="spacingAndGlyphs">May</text>
<text x="988" y="610" textLength="17.37" lengthAdjust="spacingAndGlyphs">Jun</text>
<text x="1054" y="610" textLength="13.77" lengthAdjust="spacingAndGlyphs">Jul</text>
<text x="1124" y="610" textLength="19.17" lengthAdjust="spacingAndGlyphs">Aug</text>
</svg></body></html>
